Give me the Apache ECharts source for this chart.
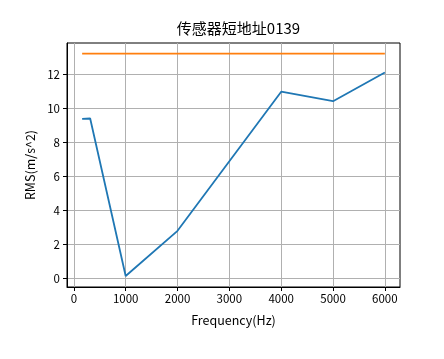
<!DOCTYPE html>
<html>
<head>
<meta charset="utf-8">
<script src="https://cdn.jsdelivr.net/npm/echarts@6/dist/echarts.min.js"></script>
<style>html,body{margin:0;padding:0;background:#fff}#c{width:444px;height:359px}</style>
</head>
<body>
<div id="c"></div>
<script>
const titleText = '传感器短地址0139';
const xName = 'Frequency(Hz)';
const yName = 'RMS(m/s^2)';
const frequencies = [160, 315, 1000, 2000, 4000, 5000, 6000];
const rms = [9.4, 9.42, 0.14, 2.8, 11.0, 10.44, 12.13];
const limitFreq = [160, 6000];
const limitVal = [13.24, 13.24];
const xTicks = [0, 1000, 2000, 3000, 4000, 5000, 6000];
const yTicks = [0, 2, 4, 6, 8, 10, 12];

const font = '"Noto Sans CJK SC", sans-serif';
const chart = echarts.init(document.getElementById('c'), null, {renderer: 'canvas'});
chart.setOption({
  animation: false,
  backgroundColor: '#fff',
  title: {
    text: titleText, left: 233.5, textAlign: 'center', top: 16,
    textStyle: {fontFamily: font, fontSize: 15, fontWeight: 'normal', color: '#000'}
  },
  grid: {left: 67, right: 44, top: 43, bottom: 72, show: true, borderColor: '#000', borderWidth: 1, backgroundColor: 'transparent'},
  xAxis: {
    type: 'value', min: -132, max: 6292,
    name: xName, nameLocation: 'middle', nameGap: 27,
    nameTextStyle: {fontFamily: font, fontSize: 12.5, color: '#000'},
    axisLine: {show: true, onZero: false, lineStyle: {color: '#000', width: 1}},
    axisTick: {show: true, length: 4, lineStyle: {color: '#000'}, customValues: xTicks},
    axisLabel: {fontFamily: font, fontSize: 11.5, color: '#000', margin: 6, customValues: xTicks, formatter: v => String(v)},
    splitLine: {show: true, lineStyle: {color: '#b0b0b0', width: 1}}
  },
  yAxis: {
    type: 'value', min: -0.51, max: 13.87,
    name: yName, nameLocation: 'middle', nameGap: 30, nameRotate: 90,
    nameTextStyle: {fontFamily: font, fontSize: 12.5, color: '#000'},
    axisLine: {show: true, onZero: false, lineStyle: {color: '#000', width: 1}},
    axisTick: {show: true, length: 4, lineStyle: {color: '#000'}, customValues: yTicks},
    axisLabel: {fontFamily: font, fontSize: 11.5, color: '#000', margin: 7, customValues: yTicks, formatter: v => String(v)},
    splitLine: {show: true, lineStyle: {color: '#b0b0b0', width: 1}}
  },
  series: [
    {
      type: 'line', data: frequencies.map((f, i) => [f, rms[i]]),
      showSymbol: false, symbol: 'none', lineStyle: {color: '#1f77b4', width: 1.8}, z: 3
    },
    {
      type: 'line', data: limitFreq.map((f, i) => [f, limitVal[i]]),
      showSymbol: false, symbol: 'none', lineStyle: {color: '#ff7f0e', width: 1.8}, z: 3
    }
  ]
});
</script>
</body>
</html>
